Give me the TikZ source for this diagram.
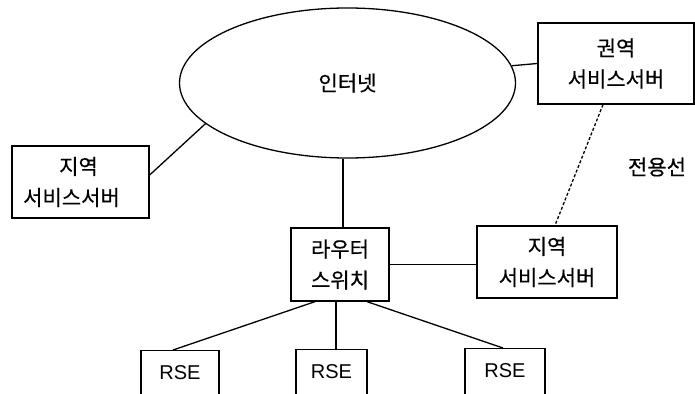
\documentclass[tikz,border=0pt]{standalone}
\usepackage{fontspec}
\setmainfont{Liberation Sans}
\newfontfamily\kr[FakeBold=0.5]{Noto Sans CJK KR}
\usetikzlibrary{shapes.geometric}
\begin{document}
\begin{tikzpicture}[x=1pt,y=-1pt,
  conn/.style={line width=1.3pt},
  box/.style={draw,line width=1.3pt,inner sep=0pt,align=center,
    font=\kr\fontsize{21}{31}\selectfont},
  rsebox/.style={draw,line width=1.3pt,inner sep=0pt,anchor=north,
    text height=29pt,text depth=30pt,font=\fontsize{20}{22}\selectfont},
  lbl/.style={font=\kr\fontsize{21}{31}\selectfont}]
\useasboundingbox (0,0) rectangle (695,393);
\clip (0,0) rectangle (695,393);
\fill[white] (0,0) rectangle (695,393);
\node[draw,ellipse,line width=1.3pt,minimum width=336pt,minimum height=150pt,inner sep=0pt,
  font=\kr\fontsize{21}{22}\selectfont] (inet) at (347.5,83) {인터넷};
\node[box,minimum width=156pt,minimum height=81pt] (kw) at (616,63.5) {권역\\서비스서버};
\node[box,minimum width=137pt,minimum height=72pt] (lj) at (80.5,182) {지역\hspace*{4pt}\\서비스서버\hspace*{18pt}};
\node[box,minimum width=140pt,minimum height=72pt] (rj) at (547,262) {지역\\서비스서버};
\node[box,minimum width=98pt,minimum height=73pt] (router) at (340,264.5) {라우터\\스위치};
\node[rsebox,minimum width=78pt] (rse1) at (180,350) {RSE};
\node[rsebox,minimum width=71pt] (rse2) at (331.5,349) {RSE};
\node[rsebox,minimum width=80pt] (rse3) at (505,348) {RSE};
\node[lbl] (jy) at (657,167) {전용선};
\draw[conn] (inet.6) -- (kw.west);
\draw[conn] (inet.196) -- ([yshift=7pt]lj.east);
\draw[conn] ([xshift=3pt]router.north) -- ([xshift=3pt]router.north |- inet.south);
\draw[conn] (router.east) -- (router.east -| rj.west);
\draw[conn,dashed,dash pattern=on 3pt off 2pt] ([xshift=-13pt]kw.south) -- ([xshift=8pt]rj.north);
\draw[conn] ([xshift=-25pt]router.south) -- ([xshift=-7pt]rse1.north);
\draw[conn] ([xshift=-4pt]router.south) -- ([xshift=4.5pt]rse2.north);
\draw[conn] ([xshift=27pt]router.south) -- ([xshift=-2pt]rse3.north);
\end{tikzpicture}
\end{document}
